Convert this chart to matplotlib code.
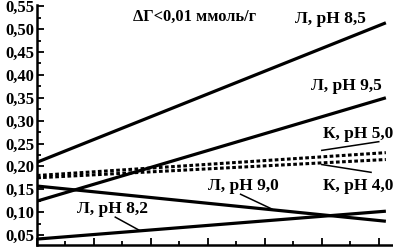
import matplotlib.pyplot as plt
from matplotlib.ticker import MultipleLocator, FuncFormatter

plt.rcParams["font.family"] = ["Liberation Serif", "DejaVu Serif"]
plt.rcParams["font.weight"] = "bold"

# x range of the lines (no x labels in the original)
x_line = [0, 12.25]

# straight lines: start / end values
l_85 = [0.209, 0.514]
l_95 = [0.124, 0.350]
k_50 = [0.180, 0.230]
k_40 = [0.175, 0.215]
l_90 = [0.157, 0.080]
l_82 = [0.041, 0.102]

# labels: text, x, y
labels = ["Л, pH 8,5", "Л, pH 9,5", "К, pH 5,0", "К, pH 4,0", "Л, pH 9,0", "Л, pH 8,2"]
label_x = [10.32, 10.88, 11.27, 11.27, 7.25, 2.64]
label_y = [0.522, 0.376, 0.270, 0.157, 0.157, 0.107]

# pointer lines from label to curve
ptr_x = [[10.0, 12.0], [10.0, 11.73], [7.15, 8.24], [2.75, 3.63]]
ptr_y = [[0.235, 0.254], [0.204, 0.187], [0.139, 0.107], [0.089, 0.059]]

fig = plt.figure(figsize=(3.93, 2.48), dpi=100)
ax = fig.add_axes([0.094, 0.012, 0.906, 0.968])

ax.plot(x_line, l_85, color="black", lw=2.3, solid_capstyle="butt")
ax.plot(x_line, l_95, color="black", lw=2.3, solid_capstyle="butt")
ax.plot(x_line, l_90, color="black", lw=2.3, solid_capstyle="butt")
ax.plot(x_line, l_82, color="black", lw=2.3, solid_capstyle="butt")
ax.plot(x_line, k_50, color="black", lw=2.2, ls=(0, (1.2, 0.8)))
ax.plot(x_line, k_40, color="black", lw=2.2, ls=(0, (1.2, 0.8)))

for px, py in zip(ptr_x, ptr_y):
    ax.plot(px, py, color="black", lw=1.1)

for t, x, y in zip(labels, label_x, label_y):
    ax.text(x, y, t, ha="center", va="center", fontsize=12.5)

ax.text(5.53, 0.528, "ΔΓ<0,01 ммоль/г", ha="center", va="center", fontsize=11.8)

ax.set_xlim(0, 12.5)
ax.set_ylim(0.028, 0.553)
ax.xaxis.set_major_locator(MultipleLocator(2))
ax.xaxis.set_minor_locator(MultipleLocator(1))
ax.yaxis.set_major_locator(MultipleLocator(0.05))
ax.yaxis.set_minor_locator(MultipleLocator(0.025))
ax.yaxis.set_major_formatter(FuncFormatter(lambda v, p: f"{v:.2f}".replace(".", ",")))
ax.set_xticklabels([])
ax.tick_params(which="both", direction="in", width=1.3, labelsize=12, pad=2)
ax.tick_params(which="major", length=5)
ax.tick_params(which="minor", length=3)
ax.spines["top"].set_visible(False)
ax.spines["right"].set_visible(False)
ax.spines["left"].set_linewidth(1.8)
ax.spines["bottom"].set_linewidth(1.8)

fig.savefig("out.png", dpi=100)
